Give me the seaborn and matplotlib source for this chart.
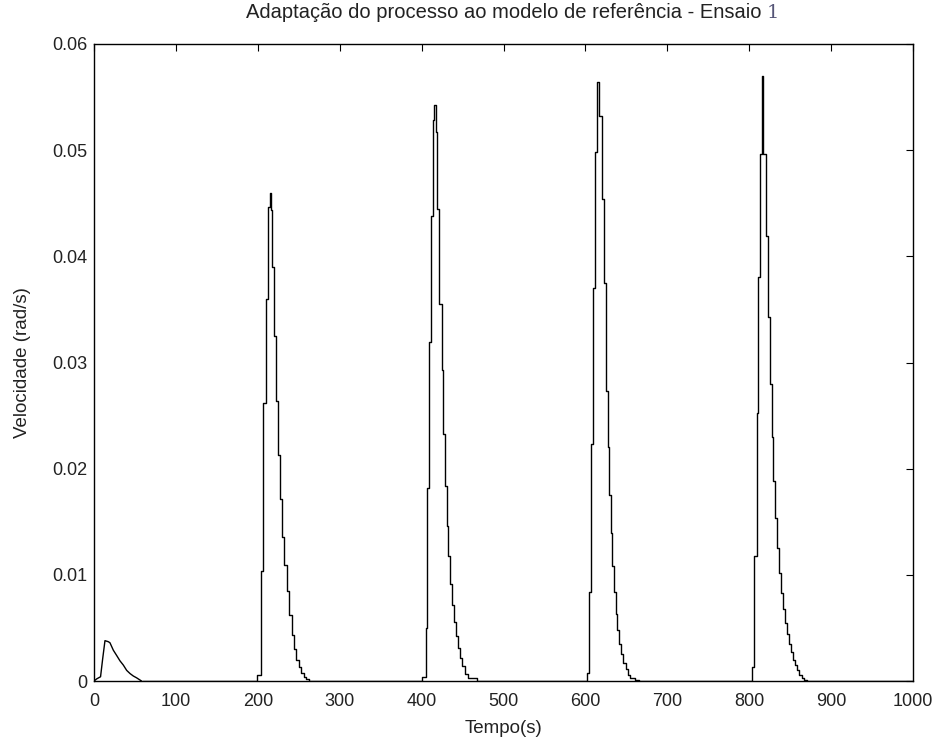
import numpy as np
import pandas as pd
import matplotlib
matplotlib.use("Agg")
import matplotlib.pyplot as plt
import seaborn as sns

# ---- data (time in s, velocity in rad/s) ----
t_p1 = [0, 3.3, 8.0, 10.6, 13.4, 17.5, 19.5, 23.6, 27.7, 31.7, 35.8, 39.9, 44.0, 48.0, 52.0, 56.0, 58.0]
v_p1 = [0, 0.0002, 0.0004, 0.0021, 0.0038, 0.0037, 0.0036, 0.0029, 0.0024, 0.0019, 0.0015, 0.0010,
        0.0007, 0.00047, 0.0003, 0.0001, 0]

t_p2 = [58.1, 198.6, 203.5, 206.8, 210.0, 212.9, 214.9, 216.1, 217.7, 219.8, 221.8, 224.3, 227.1, 229.9,
        232.4, 235.3, 238.1, 241.4, 244.0, 247.0, 250.0, 253.0, 256.0, 259.0, 263.0]
v_p2 = [0, 0.0006, 0.0104, 0.0262, 0.0360, 0.0446, 0.0460, 0.0444, 0.0390, 0.0325, 0.0264, 0.0213, 0.0171,
        0.0136, 0.0109, 0.0085, 0.0062, 0.0043, 0.0030, 0.0020, 0.0013, 0.0008, 0.0004, 0.0002, 0]

t_p3 = [400.1, 405.0, 407.0, 409.5, 411.5, 413.5, 415.5, 417.2, 419.2, 421.6, 424.5, 426.5, 428.6,
        430.6, 432.6, 434.7, 437.5, 439.6, 442.0, 444.1, 446.9, 448.9, 453.0, 457.0, 467.3]
v_p3 = [0.0004, 0.0050, 0.0182, 0.0319, 0.0438, 0.0528, 0.0543, 0.0517, 0.0445, 0.0355, 0.0293, 0.0233,
        0.0184, 0.0146, 0.0118, 0.0091, 0.0072, 0.0056, 0.0042, 0.0031, 0.0022, 0.0014, 0.0007, 0.0003, 0]

t_p4 = [602.0, 604.5, 607.0, 609.7, 611.7, 614.5, 616.6, 619.9, 622.3, 625.2, 627.2, 628.8, 631.3,
        632.9, 634.9, 637.0, 639.0, 641.5, 644.0, 646.5, 649.0, 652.0, 655.0, 660.0, 666.0]
v_p4 = [0.0008, 0.0084, 0.0223, 0.0370, 0.0498, 0.0564, 0.0532, 0.0454, 0.0375, 0.0273, 0.0220, 0.0175,
        0.0139, 0.0108, 0.0084, 0.0063, 0.0048, 0.0035, 0.0025, 0.0017, 0.0011, 0.0006, 0.0003, 0.0001, 0]

t_p5 = [803.8, 806.3, 809.1, 811.1, 813.6, 816.0, 817.2, 820.1, 822.5, 825.0, 827.4, 829.5, 831.5,
        834.0, 836.4, 838.8, 841.3, 843.7, 846.0, 848.5, 851.0, 853.5, 856.0, 858.5, 861.0, 864.0,
        867.0, 870.0, 1000.0]
v_p5 = [0.0013, 0.0118, 0.0252, 0.0381, 0.0496, 0.0570, 0.0496, 0.0419, 0.0343, 0.0280, 0.0230, 0.0188,
        0.0154, 0.0125, 0.0102, 0.0083, 0.0068, 0.0055, 0.0044, 0.0035, 0.0027, 0.0020, 0.0015, 0.0010,
        0.0006, 0.0003, 0.0001, 0, 0]

x_ticks = [0, 100, 200, 300, 400, 500, 600, 700, 800, 900, 1000]
y_ticks = [0, 0.01, 0.02, 0.03, 0.04, 0.05, 0.06]
y_tick_labels = ["0", "0.01", "0.02", "0.03", "0.04", "0.05", "0.06"]

title_text = "Adaptação do processo ao modelo de referência - Ensaio"
title_num = "1"
x_label = "Tempo(s)"
y_label = "Velocidade (rad/s)"

df_smooth = pd.DataFrame({"t": t_p1, "v": v_p1})
df_steps = pd.DataFrame({
    "t": t_p2 + t_p3 + t_p4 + t_p5,
    "v": v_p2 + v_p3 + v_p4 + v_p5,
})

sns.set_style("white")
plt.rcParams["font.family"] = ["Liberation Sans", "DejaVu Sans"]

fig = plt.figure(figsize=(9.38, 7.39), dpi=100)
ax = fig.add_axes([94 / 938, 1 - 681 / 739, (913 - 94) / 938, (681 - 44) / 739])

sns.lineplot(data=df_smooth, x="t", y="v", ax=ax, color="black", linewidth=1.0,
             estimator=None, sort=False)
sns.lineplot(data=df_steps, x="t", y="v", ax=ax, color="black", linewidth=1.0,
             drawstyle="steps-post", estimator=None, sort=False)

ax.set_xlim(0, 1000)
ax.set_ylim(0, 0.06)
ax.set_xticks(x_ticks)
ax.set_xticklabels([str(x) for x in x_ticks])
ax.set_yticks(y_ticks)
ax.set_yticklabels(y_tick_labels)
ax.tick_params(direction="in", length=5, width=0.8, colors="black",
               top=True, right=True, labelsize=13, labelcolor="#222222")
ax.tick_params(axis="x", pad=9)
ax.tick_params(axis="y", pad=5)

for s in ax.spines.values():
    s.set_visible(True)
    s.set_color("black")
    s.set_linewidth(1.0)

ax.set_xlabel(x_label, fontsize=13.5, color="#222222", labelpad=7)
ax.set_ylabel(y_label, fontsize=13.5, color="#222222", labelpad=15)
ttl = ax.set_title(title_text, fontsize=14.5, color="#222222", pad=19)
ax.annotate(title_num, xy=(1, 0), xycoords=ttl, xytext=(4, 0), textcoords="offset points",
            fontsize=14, family=["DejaVu Serif"], color="#555577", va="bottom", ha="left")
ax.grid(False)

fig.savefig("out.png", dpi=100, facecolor="white")
